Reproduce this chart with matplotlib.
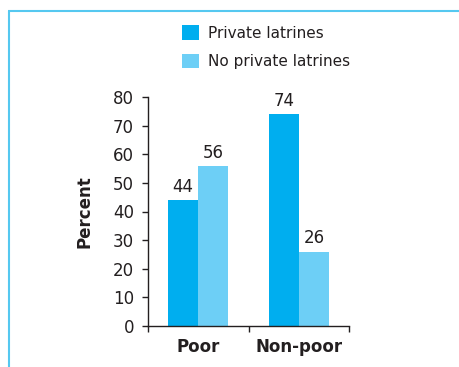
import numpy as np
from matplotlib import pyplot as plt
from matplotlib.patches import Patch
from matplotlib.lines import Line2D

# data
groups = ['Poor', 'Non-poor']
private = [44, 74]
no_private = [56, 26]
series_names = ['Private latrines', 'No private latrines']
yticks = [0, 10, 20, 30, 40, 50, 60, 70, 80]

dark = '#00aeef'
light = '#6dcff6'
txt = '#231f20'

plt.rcParams['font.family'] = ['DejaVu Sans']

fig = plt.figure(figsize=(4.59, 3.67), dpi=100)
ax = fig.add_axes([148/459, 1 - 326/367, 201/459, 229/367])

x = np.arange(len(groups))
w = 0.3
b1 = ax.bar(x - w/2, private, w, color=dark, linewidth=0)
b2 = ax.bar(x + w/2, no_private, w, color=light, linewidth=0)

for bars, vals in [(b1, private), (b2, no_private)]:
    for rect, v in zip(bars, vals):
        ax.annotate(str(v), (rect.get_x() + rect.get_width()/2, v),
                    xytext=(0, 3), textcoords='offset points',
                    ha='center', va='bottom', fontsize=12, color=txt)

ax.set_xlim(-0.5, 1.5)
ax.set_ylim(0, 80)
ax.set_yticks(yticks)
ax.tick_params(axis='y', length=4, width=1, colors=txt, labelsize=12, pad=6)
ax.set_xticks(x)
ax.set_xticklabels(groups, fontsize=12, fontweight='bold', color=txt)
ax.tick_params(axis='x', which='major', length=0, pad=9)
ax.set_xticks([-0.5, 0.5, 1.5], minor=True)
ax.tick_params(axis='x', which='minor', length=4, width=1, color=txt)
ax.set_ylabel('Percent', fontsize=12, fontweight='bold', color=txt, labelpad=14)

for s in ['top', 'right']:
    ax.spines[s].set_visible(False)
for s in ['left', 'bottom']:
    ax.spines[s].set_color(txt)
    ax.spines[s].set_linewidth(1)

handles = [Patch(facecolor=dark), Patch(facecolor=light)]
fig.legend(handles, series_names, loc='upper left',
           bbox_to_anchor=(182/459, 1 - 25/367), frameon=False,
           fontsize=11, handlelength=1.1, handleheight=1.1,
           handletextpad=0.6, labelspacing=0.85, borderpad=0,
           borderaxespad=0, labelcolor=txt)

# box outline (left and top edges only)
frame_col = '#55c8f0'
fig.add_artist(Line2D([8.5/459, 8.5/459], [0, 1 - 11/367], color=frame_col,
                      lw=1.5, solid_capstyle='butt', transform=fig.transFigure))
fig.add_artist(Line2D([8/459, 1.01], [1 - 11/367, 1 - 11/367], color=frame_col,
                      lw=1.5, solid_capstyle='butt', transform=fig.transFigure))

fig.savefig('out.png', dpi=100)
